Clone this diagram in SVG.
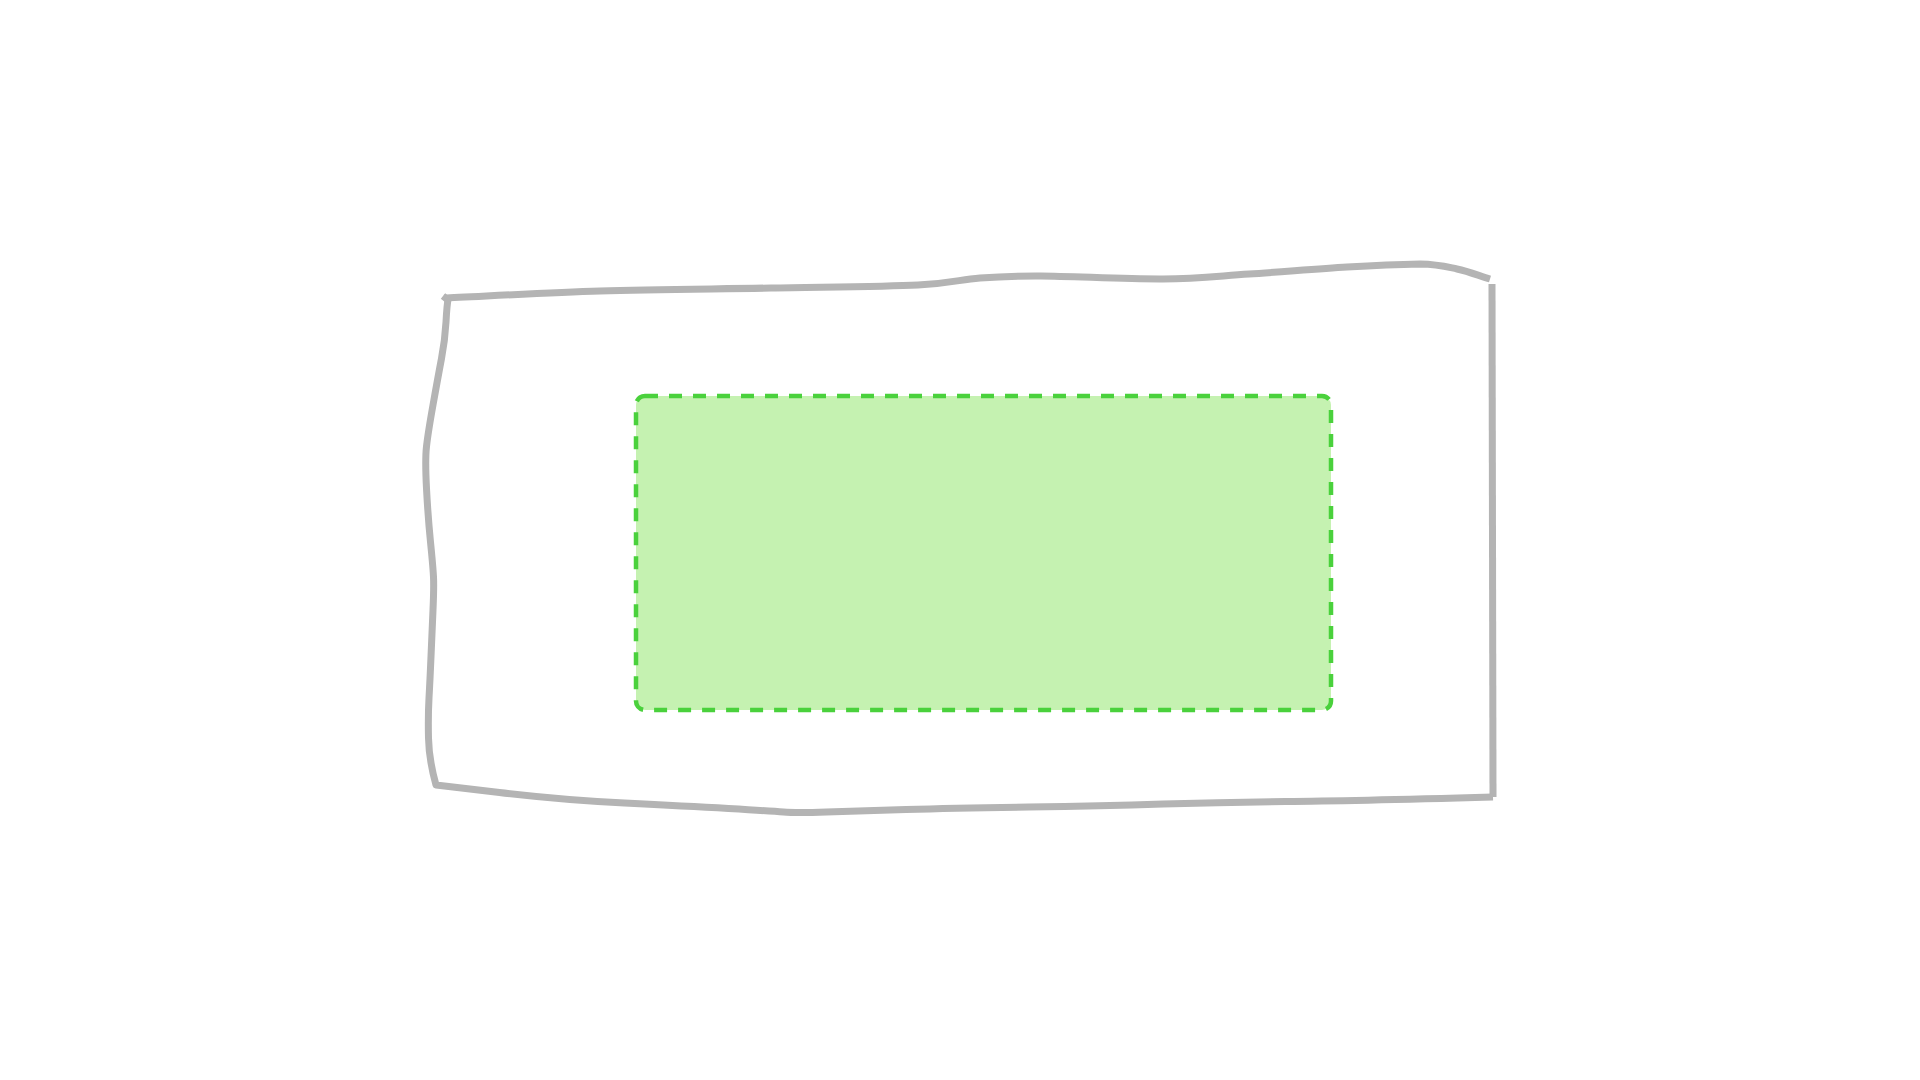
<svg xmlns="http://www.w3.org/2000/svg" width="1920" height="1080" viewBox="0 0 1920 1080">
<style>
.outline{fill:none;stroke:#b4b4b4;stroke-width:7;stroke-linecap:butt;stroke-linejoin:round}
.zone{fill:#c5f2b1;stroke:#4ad13c;stroke-width:4.5;stroke-dasharray:13 11}
</style>
<rect x="0" y="0" width="1920" height="1080" fill="#ffffff"/>
<g id="outline">
<path class="outline" d="M444,298 C470,297 545.5,292.7 600,291 C654.5,289.3 718,289 771,288 C824,287 883,286.7 918,285 C952.8,283.3 959.5,279.5 980,278 C1000.5,276.5 1010.5,275.8 1041,276 C1071.5,276.2 1128.3,279.3 1163,279 C1197.7,278.7 1218.3,276 1249,274 C1279.7,272 1318.5,268.7 1347,267 C1375.5,265.3 1401.7,264.3 1420,264 C1438.3,264.3 1445.3,266.5 1457,269 C1468.7,271.5 1479,275.7 1490,279"/>
<path class="outline" d="M1492,284 C1492.5,420 1493.5,600 1493,797"/>
<path class="outline" d="M1493,797 Q1347,801 1285.5,801.5 Q1224,802 1163,804 Q1102,806 1028.5,807 Q955,808 906,809.5 Q857,811 826.5,812 Q796,813 783.5,812 Q771,811 728.5,808.5 Q686,806 624.5,803 Q563,800 499.5,792.5 L436,785 Q429,760 428.5,738 Q428,716 429,698 Q430,680 431,656.5 Q432,633 433,610 Q434,587 433.5,577 Q433,567 430.5,542 Q428,517 426.5,488.5 Q425,460 426.5,446.5 Q428,433 433,405 Q438,377 441.5,358.5 Q445,340 446,322 Q447,304 448,300 L443,296"/>
</g>
<g id="print-area">
<rect class="zone" x="636" y="396" width="695" height="314" rx="9" ry="9"/>
</g>
</svg>
